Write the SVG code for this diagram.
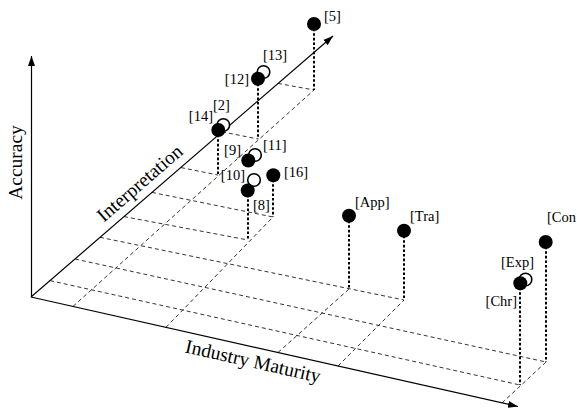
<svg xmlns="http://www.w3.org/2000/svg" width="577" height="410" viewBox="0 0 577 410">
<style>
.ax{stroke:#000;stroke-width:1.2;fill:none}
.grid{stroke:#000;stroke-width:0.8;stroke-dasharray:4 3;fill:none}
.drop{stroke:#000;stroke-width:2;stroke-dasharray:2.6 2;fill:none}
.dot{fill:#000}
.open{fill:#fff;stroke:#000;stroke-width:1.6}
.lbl{font-family:"Liberation Serif","Times New Roman",serif;font-size:14.5px;fill:#000}
.axl{font-family:"Liberation Serif","Times New Roman",serif;font-size:19.5px;fill:#000}
</style>
<defs>
<marker id="ah" markerWidth="11" markerHeight="8" refX="10" refY="4" orient="auto" markerUnits="userSpaceOnUse"><path d="M0,0.5 L10,4 L0,7.5 z" fill="#000"/></marker>
</defs>
<rect width="577" height="410" fill="#fff"/>
<g id="axes">
<line class="ax" x1="31.5" y1="297" x2="31.5" y2="56" marker-end="url(#ah)"/>
<line class="ax" x1="31" y1="297" x2="333" y2="36" marker-end="url(#ah)"/>
<line class="ax" x1="31" y1="297" x2="518" y2="406.5" marker-end="url(#ah)"/>
<text class="axl" transform="translate(22,162.5) rotate(-90)" text-anchor="middle">Accuracy</text>
<text class="axl" transform="translate(140,183.5) rotate(-40.9)" text-anchor="middle" y="6">Interpretation</text>
<text class="axl" transform="translate(253,361.7) rotate(12.7)" text-anchor="middle" y="6">Industry Maturity</text>
</g>
<g id="connectors">
<!-- lines from interpretation axis to floor points -->
<line class="grid" x1="50" y1="280.6" x2="520" y2="385"/>
<line class="grid" x1="75" y1="259" x2="546" y2="362"/>
<line class="grid" x1="100" y1="237.3" x2="404" y2="300"/>
<line class="grid" x1="124" y1="216.6" x2="248" y2="240"/>
<line class="grid" x1="152" y1="192.4" x2="273" y2="217"/>
<line class="grid" x1="181" y1="167.6" x2="218" y2="175"/>
<line class="grid" x1="222" y1="131.8" x2="258" y2="139"/>
<line class="grid" x1="278" y1="83.4" x2="314" y2="90"/>
<!-- lines from industry axis to floor points -->
<line class="grid" x1="73" y1="306.4" x2="314" y2="90"/>
<line class="grid" x1="166" y1="327.3" x2="273" y2="217"/>
<line class="grid" x1="278" y1="352.5" x2="349" y2="289"/>
<line class="grid" x1="338" y1="366" x2="404" y2="300"/>
<line class="grid" x1="502" y1="403" x2="546" y2="362"/>
<!-- vertical drop lines -->
<line class="drop" x1="314" y1="24" x2="314" y2="90"/>
<line class="drop" x1="258" y1="79" x2="258" y2="139"/>
<line class="drop" x1="218" y1="130" x2="218" y2="175"/>
<line class="drop" x1="248" y1="190" x2="248" y2="240"/>
<line class="drop" x1="273" y1="175" x2="273" y2="217"/>
<line class="drop" x1="349" y1="216" x2="349" y2="289"/>
<line class="drop" x1="404" y1="231" x2="404" y2="300"/>
<line class="drop" x1="546" y1="242" x2="546" y2="362"/>
<line class="drop" x1="520" y1="283" x2="520" y2="385"/>
</g>
<g id="p5"><circle class="dot" cx="314" cy="24" r="7"/><text class="lbl" x="324" y="21">[5]</text></g>
<g id="p13"><circle class="open" cx="263.5" cy="72" r="6.3"/><text class="lbl" x="263" y="60">[13]</text></g>
<g id="p12"><circle class="dot" cx="258" cy="78.7" r="7"/><text class="lbl" x="249" y="84" text-anchor="end">[12]</text></g>
<g id="p2"><circle class="open" cx="223.3" cy="125" r="6.3"/><text class="lbl" x="213" y="110">[2]</text></g>
<g id="p14"><circle class="dot" cx="218.3" cy="130" r="7"/><text class="lbl" x="213" y="121" text-anchor="end">[14]</text></g>
<g id="p11"><circle class="open" cx="255" cy="155" r="6.3"/><text class="lbl" x="263" y="150">[11]</text></g>
<g id="p9"><circle class="dot" cx="248.3" cy="160.5" r="7"/><text class="lbl" x="241" y="155" text-anchor="end">[9]</text></g>
<g id="p10"><circle class="open" cx="254" cy="180" r="6.3"/><text class="lbl" x="245" y="180" text-anchor="end">[10]</text></g>
<g id="p8"><circle class="dot" cx="247.7" cy="190.5" r="7"/><text class="lbl" x="253" y="209.5">[8]</text></g>
<g id="p16"><circle class="dot" cx="273.3" cy="175.3" r="7"/><text class="lbl" x="284" y="177">[16]</text></g>
<g id="pApp"><circle class="dot" cx="349" cy="215.7" r="7"/><text class="lbl" x="355" y="207">[App]</text></g>
<g id="pTra"><circle class="dot" cx="404" cy="230.7" r="7"/><text class="lbl" x="410" y="221">[Tra]</text></g>
<g id="pCon"><circle class="dot" cx="545.7" cy="242" r="7"/><text class="lbl" x="547" y="222">[Con</text></g>
<g id="pExp"><circle class="open" cx="525.5" cy="279.5" r="6.3"/><text class="lbl" x="501" y="267">[Exp]</text></g>
<g id="pChr"><circle class="dot" cx="520.3" cy="283.3" r="7"/><text class="lbl" x="517" y="306" text-anchor="end">[Chr]</text></g>
</svg>
